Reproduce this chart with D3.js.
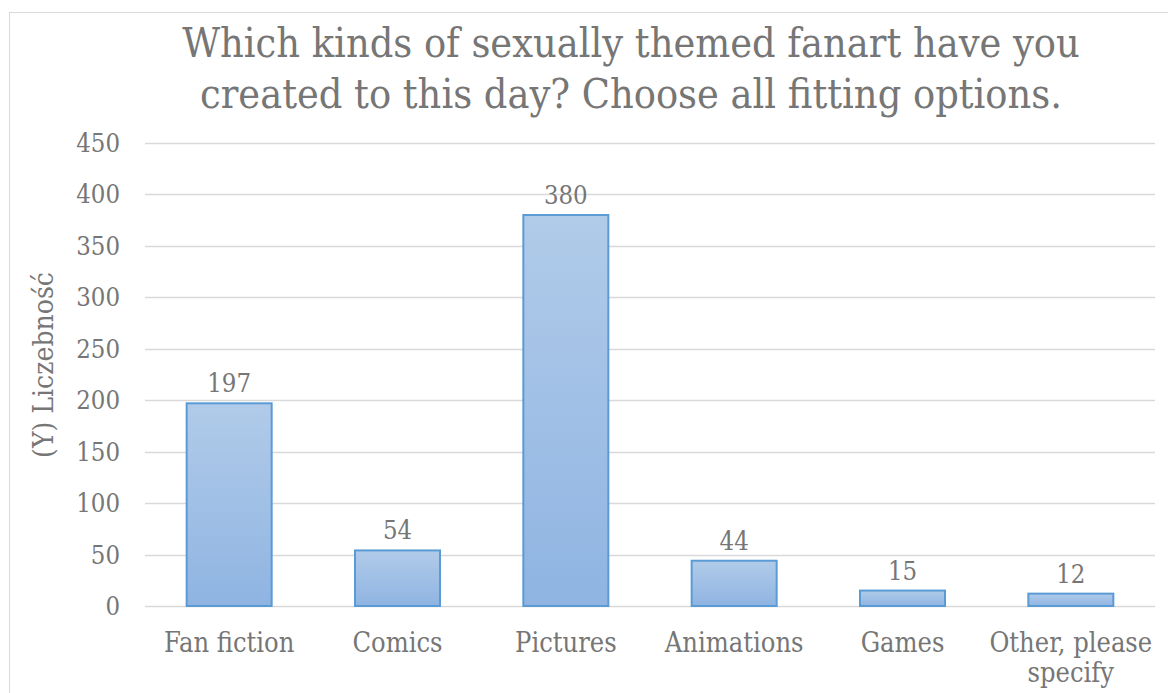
<!DOCTYPE html>
<html><head><meta charset="utf-8">
<script src="https://cdn.jsdelivr.net/npm/d3@7"></script>
<style>body{margin:0;background:#fff}svg{display:block}text{font-family:"DejaVu Serif Condensed","DejaVu Serif",serif;font-stretch:condensed;fill:#767676}</style>
</head><body><svg id="c" width="1168" height="693"></svg>
<script>
const categories = ["Fan fiction","Comics","Pictures","Animations","Games","Other, please specify"];
const values = [197,54,380,44,15,12];
const yTicks = [0,50,100,150,200,250,300,350,400,450];
const titleLines = ["Which kinds of sexually themed fanart have you","created to this day? Choose all fitting options."];
const yLabel = "(Y) Liczebność";

const svg = d3.select("#c");
const defs = svg.append("defs");
const g = defs.append("linearGradient").attr("id","bg").attr("x1",0).attr("y1",0).attr("x2",0).attr("y2",1);
g.append("stop").attr("offset","0%").attr("stop-color","#b1cbe9");
g.append("stop").attr("offset","100%").attr("stop-color","#8fb4e2");

svg.append("rect").attr("x",9.5).attr("y",12.5).attr("width",1200).attr("height",700).attr("fill","none").attr("stroke","#d9d9d9");

const x = d3.scaleBand().domain(categories).range([145,1155]).paddingInner(0.495).paddingOuter(0.2475);
const y = d3.scaleLinear().domain([0,450]).range([606,143]);

svg.append("g").selectAll("line").data(yTicks).join("line")
  .attr("x1",145).attr("x2",1155).attr("y1",d=>Math.round(y(d))+0.5).attr("y2",d=>Math.round(y(d))+0.5)
  .attr("stroke","#d9d9d9").attr("stroke-width",1.5);

svg.append("g").selectAll("text").data(yTicks).join("text")
  .attr("x",120).attr("y",d=>y(d)+9).attr("text-anchor","end").attr("font-size",25.5).text(d=>d);

svg.append("g").selectAll("rect").data(values).join("rect")
  .attr("x",(d,i)=>x(categories[i])).attr("width",x.bandwidth())
  .attr("y",d=>y(d)).attr("height",d=>y(0)-y(d))
  .attr("fill","url(#bg)").attr("stroke","#5b9bd5").attr("stroke-width",2);

svg.append("g").selectAll("text").data(values).join("text")
  .attr("x",(d,i)=>x(categories[i])+x.bandwidth()/2).attr("y",d=>y(d)-11)
  .attr("text-anchor","middle").attr("font-size",25.5).text(d=>d);

const lab = svg.append("g").selectAll("text").data(categories).join("text")
  .attr("text-anchor","middle").attr("font-size",27)
  .attr("x",d=>x(d)+x.bandwidth()/2).attr("y",652);
lab.each(function(d){
  const t=d3.select(this);
  if(d==="Other, please specify"){
    t.append("tspan").attr("x",x(d)+x.bandwidth()/2).attr("dy",0).text("Other, please");
    t.append("tspan").attr("x",x(d)+x.bandwidth()/2).attr("dy",30).text("specify");
  } else t.text(d);
});

svg.append("text").attr("transform","translate(53,365) rotate(-90)").attr("text-anchor","middle").attr("font-size",28).text(yLabel);

svg.append("g").selectAll("text").data(titleLines).join("text")
  .attr("x",631).attr("y",(d,i)=>57+i*51).attr("text-anchor","middle").attr("font-size",41).text(d=>d);
</script></body></html>
